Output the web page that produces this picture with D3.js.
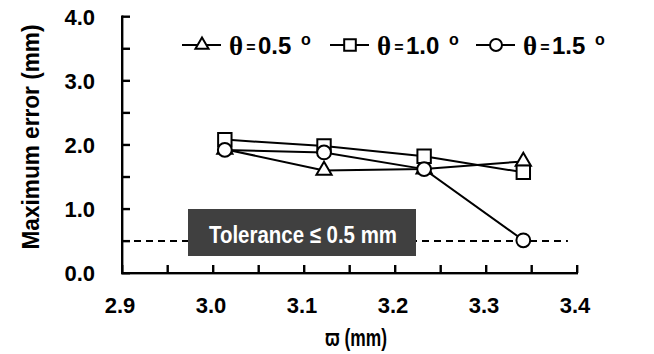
<!DOCTYPE html>
<html>
<head>
<meta charset="utf-8">
<script src="https://cdn.jsdelivr.net/npm/d3@7"></script>
<style>
  body { margin: 0; background: #fff; }
  text { font-family: "Liberation Sans", Arial, sans-serif; font-weight: bold; }
</style>
</head>
<body>
<div id="chart"></div>
<script>
// Data
const xValues = [3.013, 3.122, 3.232, 3.341]
const theta05 = [1.93, 1.60, 1.62, 1.74]
const theta10 = [2.08, 1.98, 1.82, 1.57]
const theta15 = [1.92, 1.88, 1.62, 0.51]
const seriesNames = ['0.5', '1.0', '1.5']
const seriesSymbols = ['triangle', 'square', 'circle']
const xTicks = [2.9, 3.0, 3.1, 3.2, 3.3, 3.4]
const yTicks = [0, 1, 2, 3, 4]
const tolerance = 0.5

const series = [theta05, theta10, theta15].map((vals, i) => ({
  name: seriesNames[i],
  symbol: seriesSymbols[i],
  points: vals.map((v, j) => ({ x: xValues[j], y: v }))
}))

// Dimensions
const dimensions = {
  width: 654,
  height: 354,
  left: 122,
  right: 577,
  top: 16.5,
  bottom: 273
}

const svg = d3.select('#chart')
  .append('svg')
  .attr('width', dimensions.width)
  .attr('height', dimensions.height)

// Scales
const xScale = d3.scaleLinear()
  .domain([2.9, 3.4])
  .range([dimensions.left, dimensions.right])

const yScale = d3.scaleLinear()
  .domain([0, 4])
  .range([dimensions.bottom, dimensions.top])

// inside ticks as small rects
const xMinor = d3.range(0, 11).map(i => 2.9 + i * 0.05)
const yMinor = d3.range(0, 9).map(i => i * 0.5)

svg.append('g').selectAll('rect')
  .data(xMinor)
  .join('rect')
  .attr('x', d => xScale(d) - 1)
  .attr('y', dimensions.bottom - 8)
  .attr('width', 2.4)
  .attr('height', 8)
  .attr('fill', '#000')

svg.append('g').selectAll('rect')
  .data(yMinor)
  .join('rect')
  .attr('x', dimensions.left)
  .attr('y', d => yScale(d) - 1)
  .attr('width', 8)
  .attr('height', 2.4)
  .attr('fill', '#000')

// axis lines
svg.append('rect')
  .attr('x', dimensions.left - 1)
  .attr('y', dimensions.bottom - 1)
  .attr('width', dimensions.right - dimensions.left + 2)
  .attr('height', 2.4)
  .attr('fill', '#000')
svg.append('rect')
  .attr('x', dimensions.left - 1)
  .attr('y', dimensions.top - 1)
  .attr('width', 2.4)
  .attr('height', dimensions.bottom - dimensions.top + 2)
  .attr('fill', '#000')

// tick labels
svg.append('g').selectAll('text')
  .data(xTicks)
  .join('text')
  .attr('x', d => xScale(d) - 2)
  .attr('y', 313)
  .attr('text-anchor', 'middle')
  .style('font-size', '22px')
  .text(d => d.toFixed(1))

svg.append('g').selectAll('text')
  .data(yTicks)
  .join('text')
  .attr('x', 95)
  .attr('y', d => yScale(d) + 8)
  .attr('text-anchor', 'end')
  .style('font-size', '22px')
  .text(d => d.toFixed(1))

// axis titles
svg.append('text')
  .attr('x', 356)
  .attr('y', 346)
  .attr('text-anchor', 'middle')
  .style('font-size', '24px')
  .attr('textLength', 62)
  .attr('lengthAdjust', 'spacingAndGlyphs')
  .text('ϖ (mm)')

svg.append('text')
  .attr('transform', 'translate(39, 137) rotate(-90)')
  .attr('text-anchor', 'middle')
  .style('font-size', '24px')
  .attr('textLength', 225)
  .attr('lengthAdjust', 'spacingAndGlyphs')
  .text('Maximum error (mm)')

// tolerance line
svg.append('line')
  .attr('x1', dimensions.left)
  .attr('x2', xScale(3.39))
  .attr('y1', yScale(tolerance))
  .attr('y2', yScale(tolerance))
  .attr('stroke', '#000')
  .attr('stroke-width', 2)
  .attr('stroke-dasharray', '7,5')

svg.append('rect')
  .attr('x', 188)
  .attr('y', 209)
  .attr('width', 228)
  .attr('height', 47)
  .attr('fill', '#404040')

svg.append('text')
  .attr('x', 303)
  .attr('y', 243)
  .attr('text-anchor', 'middle')
  .attr('fill', '#fff')
  .style('font-size', '24px')
  .attr('textLength', 188)
  .attr('lengthAdjust', 'spacingAndGlyphs')
  .text('Tolerance ≤ 0.5 mm')

// lines
const line = d3.line()
  .x(d => xScale(d.x))
  .y(d => yScale(d.y))

const symbolType = { triangle: d3.symbolTriangle, square: d3.symbolSquare, circle: d3.symbolCircle }
const symbolSize = { triangle: 100, square: 180, circle: 150 }

series.forEach(s => {
  svg.append('path')
    .datum(s.points)
    .attr('d', line)
    .attr('fill', 'none')
    .attr('stroke', '#000')
    .attr('stroke-width', 2)
})

series.forEach(s => {
  svg.append('g').selectAll('path')
    .data(s.points)
    .join('path')
    .attr('transform', d => `translate(${xScale(d.x)}, ${yScale(d.y)})`)
    .attr('d', d3.symbol(symbolType[s.symbol], symbolSize[s.symbol]))
    .attr('fill', '#fff')
    .attr('stroke', '#000')
    .attr('stroke-width', 2)
})

// legend
const legendX = [182, 330, 476]
const legend = svg.append('g')
series.forEach((s, i) => {
  const g = legend.append('g').attr('transform', `translate(${legendX[i]}, 45)`)
  g.append('line')
    .attr('x1', 0).attr('x2', 39)
    .attr('stroke', '#000').attr('stroke-width', 2)
  g.append('path')
    .attr('transform', 'translate(20, 0)')
    .attr('d', d3.symbol(symbolType[s.symbol], symbolSize[s.symbol] * 0.75))
    .attr('fill', '#fff')
    .attr('stroke', '#000')
    .attr('stroke-width', 2)
  g.append('text')
    .attr('x', 47).attr('y', 10)
    .style('font-family', '"Liberation Serif", serif')
    .style('font-size', '27px')
    .text('θ')
  g.append('text')
    .attr('x', 69).attr('y', 8)
    .attr('text-anchor', 'middle')
    .style('font-size', '16px')
    .text('=')
  g.append('text')
    .attr('x', 76).attr('y', 9)
    .style('font-size', '24px')
    .text(s.name)
  g.append('text')
    .attr('x', 119).attr('y', 0)
    .style('font-size', '16px')
    .text('o')
})
</script>
</body>
</html>
